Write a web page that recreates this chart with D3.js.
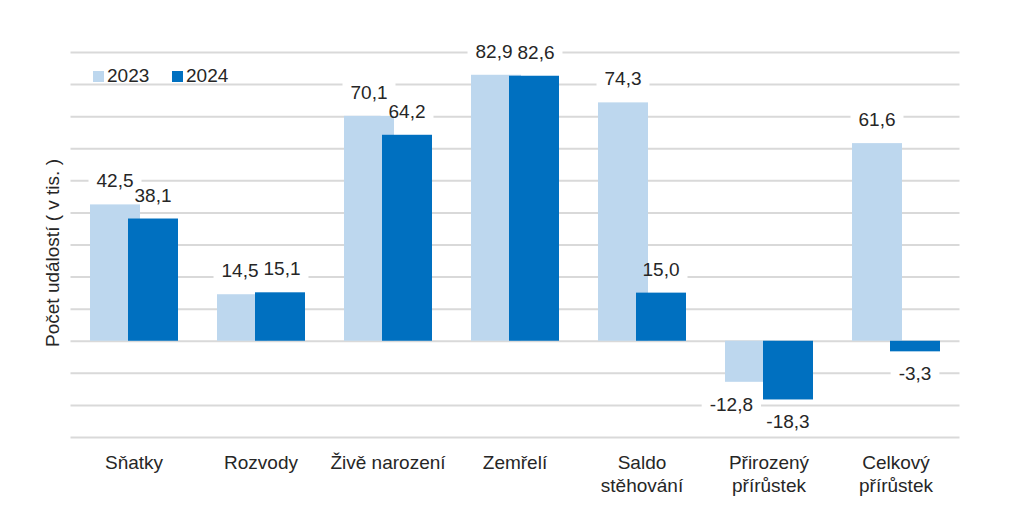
<!DOCTYPE html>
<html>
<head>
<meta charset="utf-8">
<script src="https://cdn.jsdelivr.net/npm/d3@7"></script>
<style>
  body { margin: 0; background: #fff; }
  svg text { font-family: "Liberation Sans", Arial, sans-serif; fill: #262626; }
</style>
</head>
<body>
<script>
// data
var categories = ["Sňatky", "Rozvody", "Živě narození", "Zemřelí", "Saldo\nstěhování", "Přirozený\npřírůstek", "Celkový\npřírůstek"];
var seriesNames = ["2023", "2024"];
var values2023 = [42.5, 14.5, 70.1, 82.9, 74.3, -12.8, 61.6];
var values2024 = [38.1, 15.1, 64.2, 82.6, 15.0, -18.3, -3.3];
var gridTicks = [-30, -20, -10, 0, 10, 20, 30, 40, 50, 60, 70, 80, 90];
var yTitle = "Počet událostí  ( v tis. )";

var colors = ["#BDD7EE", "#0070C0"];
var width = 1017, height = 511;
var plot = {left: 70.5, right: 959.5, top: 52, bottom: 437};

var svg = d3.select("body").append("svg")
    .attr("width", width)
    .attr("height", height);

var xScale = d3.scaleBand()
    .domain(categories)
    .range([plot.left, plot.right]);

var yScale = d3.scaleLinear()
    .domain([-30, 90])
    .range([plot.bottom, plot.top]);

var barWidth = 50;
var barStep = 38;

function barCenter(i, si) {
    return xScale(categories[i]) + xScale.bandwidth() / 2 + (si - 0.5) * barStep;
}

// gridlines
var yAxis = d3.axisLeft(yScale)
    .tickValues(gridTicks)
    .tickSize(-(plot.right - plot.left))
    .tickFormat("");
svg.append("g")
    .attr("transform", "translate(" + plot.left + ",0)")
    .call(yAxis)
    .call(function(g) {
        g.select(".domain").remove();
        g.selectAll("line").attr("stroke", "#d9d9d9").attr("stroke-width", 2);
    });

// layers: label boxes hide gridlines but sit under the bars
var boxLayer = svg.append("g");
var barLayer = svg.append("g");
var labelLayer = svg.append("g");

var series = [values2023, values2024];
var fmt = function(v) { return d3.format(".1f")(v).replace(".", ",").replace("\u2212", "-"); };

// bars
series.forEach(function(vals, si) {
    barLayer.append("g").selectAll("rect")
        .data(vals)
        .enter()
        .append("rect")
        .attr("x", function(d, i) { return barCenter(i, si) - barWidth / 2; })
        .attr("y", function(d) { return yScale(Math.max(0, d)); })
        .attr("width", barWidth)
        .attr("height", function(d) { return Math.abs(yScale(d) - yScale(0)); })
        .attr("fill", colors[si]);
});

// data labels (simple collision handling like Excel)
categories.forEach(function(c, i) {
    var labs = series.map(function(vals, si) {
        var d = vals[i];
        var t = labelLayer.append("text")
            .attr("x", barCenter(i, si))
            .attr("y", d >= 0 ? yScale(d) - 17 : yScale(d) + 29)
            .attr("text-anchor", "middle")
            .attr("font-size", 19)
            .text(fmt(d));
        return {t: t, d: d, si: si, cx: barCenter(i, si), w: t.node().getBBox().width};
    });
    // negative label hanging under a deeper neighbour bar -> move it aside
    labs.forEach(function(l) {
        if (l.d >= 0) return;
        var other = 1 - l.si;
        var ov = series[other][i];
        var ox = barCenter(i, other);
        if (ov >= 0 || ov > l.d) return;
        var left = l.cx - l.w / 2, right = l.cx + l.w / 2;
        if (l.si === 0 && right > ox - barWidth / 2) l.cx = ox - barWidth / 2 - 10 - l.w / 2;
        if (l.si === 1 && left < ox + barWidth / 2) l.cx = ox + barWidth / 2 + 10 + l.w / 2;
    });
    // two labels touching at the same height -> push apart
    var a = labs[0], b = labs[1];
    if (Math.abs(+a.t.attr("y") - +b.t.attr("y")) < 14) {
        var gap = (b.cx - b.w / 2) - (a.cx + a.w / 2);
        if (gap < 5) { a.cx -= (5 - gap) / 2; b.cx += (5 - gap) / 2; }
    }
    labs.forEach(function(l) {
        l.t.attr("x", l.cx);
        var bb = l.t.node().getBBox();
        boxLayer.append("rect")
            .attr("x", bb.x - 8)
            .attr("y", bb.y)
            .attr("width", bb.width + 16)
            .attr("height", bb.height)
            .attr("fill", "#fff");
    });
});

// category labels
categories.forEach(function(c) {
    var cx = xScale(c) + xScale.bandwidth() / 2;
    var t = svg.append("text")
        .attr("x", cx)
        .attr("y", 469)
        .attr("text-anchor", "middle")
        .attr("font-size", 19);
    c.split("\n").forEach(function(l, k) {
        t.append("tspan")
            .attr("x", cx)
            .attr("dy", k === 0 ? 0 : 23)
            .text(l);
    });
});

// y title
svg.append("text")
    .attr("transform", "translate(59,253) rotate(-90)")
    .attr("text-anchor", "middle")
    .attr("font-size", 19)
    .text(yTitle);

// legend
var legendX = [93, 172];
seriesNames.forEach(function(s, i) {
    svg.append("rect")
        .attr("x", legendX[i])
        .attr("y", 71)
        .attr("width", 11)
        .attr("height", 11)
        .attr("fill", colors[i]);
    svg.append("text")
        .attr("x", legendX[i] + 14)
        .attr("y", 82)
        .attr("font-size", 19)
        .text(s);
});
</script>
</body>
</html>
